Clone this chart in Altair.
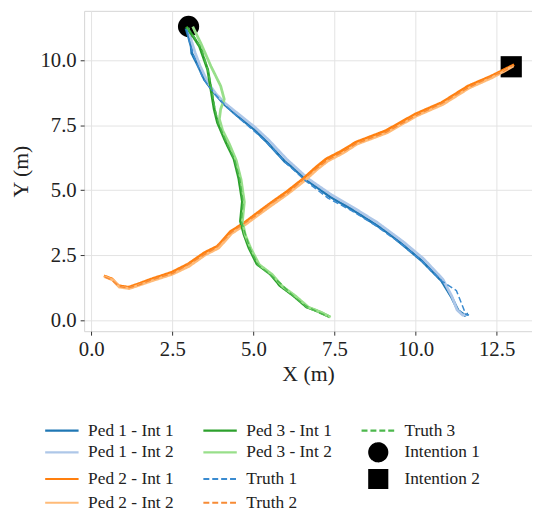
import altair as alt
import pandas as pd

# ---- data ----
p1i1_x = [2.92, 3.00, 3.08, 3.10, 3.25, 3.37, 3.49, 3.79, 4.10, 4.50, 5.01, 5.42, 5.98, 6.13, 6.64, 7.00, 7.35, 8.06, 8.77, 9.20, 9.59, 10.20, 10.80, 11.11, 11.31, 11.52, 11.62]
p1i1_y = [11.23, 10.90, 10.53, 10.27, 9.90, 9.59, 9.26, 8.75, 8.31, 7.87, 7.36, 6.85, 6.09, 5.96, 5.39, 5.08, 4.76, 4.25, 3.68, 3.32, 2.92, 2.28, 1.52, 0.89, 0.38, 0.19, 0.25]

p1i2_x = [2.98, 3.10, 3.20, 3.35, 3.50, 3.62, 3.85, 4.15, 4.55, 5.05, 5.48, 6.02, 6.68, 7.40, 8.10, 8.82, 9.64, 10.25, 10.84, 11.12, 11.28, 11.45, 11.58]
p1i2_y = [11.25, 10.70, 10.30, 9.80, 9.40, 9.10, 8.70, 8.32, 7.92, 7.42, 6.92, 6.20, 5.45, 4.83, 4.32, 3.76, 3.00, 2.36, 1.58, 0.92, 0.40, 0.20, 0.22]

truth1_x = [2.95, 3.05, 3.15, 3.30, 3.45, 3.80, 4.12, 4.52, 5.00, 5.45, 6.00, 6.62, 7.30, 8.05, 8.80, 9.60, 10.22, 10.82, 11.26, 11.46, 11.55, 11.65]
truth1_y = [11.20, 10.60, 10.20, 9.75, 9.30, 8.72, 8.28, 7.82, 7.30, 6.80, 6.05, 5.35, 4.70, 4.20, 3.62, 2.90, 2.25, 1.50, 1.14, 0.51, 0.22, 0.20]

p2i1_x = [0.39, 0.64, 0.84, 1.15, 1.45, 1.86, 2.47, 2.98, 3.49, 3.89, 4.30, 4.71, 5.11, 5.52, 6.03, 6.54, 6.94, 7.25, 7.70, 8.16, 9.08, 9.99, 10.80, 11.62, 12.33, 12.70, 13.04]
p2i1_y = [1.71, 1.59, 1.33, 1.27, 1.40, 1.59, 1.84, 2.16, 2.60, 2.85, 3.42, 3.74, 4.12, 4.50, 4.95, 5.45, 5.90, 6.21, 6.50, 6.85, 7.29, 7.93, 8.37, 9.01, 9.39, 9.62, 9.83]

p2i2_x = [0.40, 0.66, 0.86, 1.17, 1.48, 1.90, 2.50, 3.02, 3.52, 3.93, 4.33, 4.74, 5.14, 5.56, 6.07, 6.58, 6.98, 7.30, 7.75, 8.20, 9.12, 10.03, 10.84, 11.66, 12.36, 12.72, 13.02]
p2i2_y = [1.68, 1.55, 1.28, 1.22, 1.35, 1.53, 1.77, 2.08, 2.52, 2.78, 3.34, 3.67, 4.04, 4.42, 4.87, 5.37, 5.82, 6.13, 6.42, 6.78, 7.21, 7.86, 8.30, 8.94, 9.33, 9.57, 9.78]

truth2_x = [0.42, 0.62, 0.86, 1.12, 1.48, 1.84, 2.50, 2.96, 3.52, 3.86, 4.32, 4.68, 5.14, 5.50, 6.06, 6.52, 6.96, 7.28, 7.72, 8.18, 9.10, 10.02, 10.78, 11.64, 12.30, 12.72, 13.00]
truth2_y = [1.66, 1.56, 1.30, 1.24, 1.36, 1.55, 1.80, 2.12, 2.55, 2.80, 3.38, 3.70, 4.08, 4.46, 4.90, 5.40, 5.85, 6.16, 6.45, 6.80, 7.24, 7.88, 8.32, 8.96, 9.35, 9.58, 9.80]

p3i1_x = [2.93, 3.15, 3.34, 3.59, 3.69, 3.79, 3.89, 4.15, 4.40, 4.55, 4.66, 4.60, 4.71, 4.86, 5.11, 5.52, 5.82, 6.23, 6.64, 7.04, 7.35]
p3i1_y = [11.29, 10.90, 10.53, 9.64, 8.88, 8.12, 7.61, 6.85, 6.21, 5.45, 4.57, 3.81, 3.30, 2.79, 2.16, 1.78, 1.33, 0.95, 0.51, 0.32, 0.13]

p3i2_x = [3.13, 3.38, 3.69, 3.99, 4.10, 3.99, 3.95, 4.05, 4.25, 4.47, 4.62, 4.72, 4.66, 4.75, 4.92, 5.18, 5.58, 5.90, 6.30, 6.70, 7.10, 7.38]
p3i2_y = [11.29, 10.65, 9.77, 9.01, 8.50, 8.12, 7.74, 7.30, 6.80, 6.15, 5.40, 4.55, 3.80, 3.28, 2.76, 2.14, 1.76, 1.30, 0.93, 0.50, 0.30, 0.12]

truth3_x = [2.95, 3.20, 3.40, 3.60, 3.72, 3.82, 3.92, 4.18, 4.42, 4.58, 4.68, 4.63, 4.76, 4.90, 5.15, 5.55, 5.85, 6.25, 6.62, 7.00, 7.30]
truth3_y = [11.25, 10.85, 10.45, 9.60, 8.85, 8.10, 7.58, 6.82, 6.18, 5.42, 4.55, 3.80, 3.28, 2.74, 2.12, 1.72, 1.40, 0.90, 0.55, 0.30, 0.15]

intention_names = ["Intention 1", "Intention 2"]
intention_x = [3.0, 12.95]
intention_y = [11.3, 9.75]

solid_series = [
    ("Ped 1 - Int 1", p1i1_x, p1i1_y),
    ("Ped 1 - Int 2", p1i2_x, p1i2_y),
    ("Ped 2 - Int 1", p2i1_x, p2i1_y),
    ("Ped 2 - Int 2", p2i2_x, p2i2_y),
    ("Ped 3 - Int 1", p3i1_x, p3i1_y),
    ("Ped 3 - Int 2", p3i2_x, p3i2_y),
]
dashed_series = [
    ("Truth 1", truth1_x, truth1_y),
    ("Truth 2", truth2_x, truth2_y),
    ("Truth 3", truth3_x, truth3_y),
]

# legend order (filled column by column, 4 rows)
legend_order = ["Ped 1 - Int 1", "Ped 1 - Int 2", "Ped 2 - Int 1", "Ped 2 - Int 2",
                "Ped 3 - Int 1", "Ped 3 - Int 2", "Truth 1", "Truth 2",
                "Truth 3", "Intention 1", "Intention 2"]
color_map = {
    "Ped 1 - Int 1": "#1f77b4", "Ped 1 - Int 2": "#aec7e8",
    "Ped 2 - Int 1": "#ff7f0e", "Ped 2 - Int 2": "#ffbb78",
    "Ped 3 - Int 1": "#2ca02c", "Ped 3 - Int 2": "#98df8a",
    "Truth 1": "#3a8bd0", "Truth 2": "#f78b35", "Truth 3": "#4cb84c",
    "Intention 1": "#000000", "Intention 2": "#000000",
}
LINE = "M-1.86,0L1.86,0"
shape_map = {s: LINE for s in legend_order}
shape_map["Intention 1"] = "circle"
shape_map["Intention 2"] = "square"
dash_map = {s: [1, 0] for s in legend_order}
for s in ["Truth 1", "Truth 2", "Truth 3"]:
    dash_map[s] = [6, 3]


def to_df(series_list):
    rows = []
    for name, xs, ys in series_list:
        for i, (a, b) in enumerate(zip(xs, ys)):
            rows.append({"series": name, "x": a, "y": b, "i": i})
    return pd.DataFrame(rows)


solid_df = to_df(solid_series)
dashed_df = to_df(dashed_series)
int_df = pd.DataFrame({"series": intention_names, "x": intention_x, "y": intention_y})

FONT = "Liberation Serif"
leg = alt.Legend(title=None, orient="none", legendX=-33, legendY=414, columns=3,
                 symbolSize=330, symbolStrokeWidth=2.2, labelFont=FONT, labelFontSize=17.5,
                 labelColor="#222222", labelOffset=16, columnPadding=25, rowPadding=0,
                 labelLimit=300)

xsc = alt.Scale(domain=[-0.22, 13.59], nice=False, zero=False)
ysc = alt.Scale(domain=[-0.42, 11.9], nice=False, zero=False)
X = alt.X("x:Q", scale=xsc, title="X (m)",
          axis=alt.Axis(values=[0, 2.5, 5, 7.5, 10, 12.5], format=".1f", titlePadding=4))
Y = alt.Y("y:Q", scale=ysc, title="Y (m)",
          axis=alt.Axis(values=[0, 2.5, 5, 7.5, 10], format=".1f", titlePadding=8))
C = alt.Color("series:N", scale=alt.Scale(domain=legend_order, range=[color_map[s] for s in legend_order]), legend=leg)
D = alt.StrokeDash("series:N", scale=alt.Scale(domain=legend_order, range=[dash_map[s] for s in legend_order]), legend=leg)
S = alt.Shape("series:N", scale=alt.Scale(domain=legend_order, range=[shape_map[s] for s in legend_order]), legend=leg)

points = alt.Chart(int_df).mark_point(filled=True, opacity=1, size=460).encode(x=X, y=Y, color=C, shape=S)
solid = alt.Chart(solid_df).mark_line(strokeWidth=2.8).encode(x=X, y=Y, color=C, strokeDash=D, order="i:Q")
dashed = alt.Chart(dashed_df).mark_line(strokeWidth=1.5).encode(x=X, y=Y, color=C, strokeDash=D, order="i:Q")

chart = alt.layer(points, solid, dashed).properties(
    width=453, height=324,
    padding={"left": 1, "top": 0, "right": 0, "bottom": 0},
).configure_view(stroke="#d4d4d4", strokeWidth=1).configure_axis(
    grid=True, gridColor="#e3e3e3", gridWidth=1,
    domain=False, tickColor="#333333", tickSize=4, labelPadding=4,
    labelFont=FONT, labelFontSize=21, labelColor="#222222",
    titleFont=FONT, titleFontSize=22, titleFontWeight="normal", titleColor="#222222",
)

chart.save("out.html", embed_options={"renderer": "svg", "actions": False})
